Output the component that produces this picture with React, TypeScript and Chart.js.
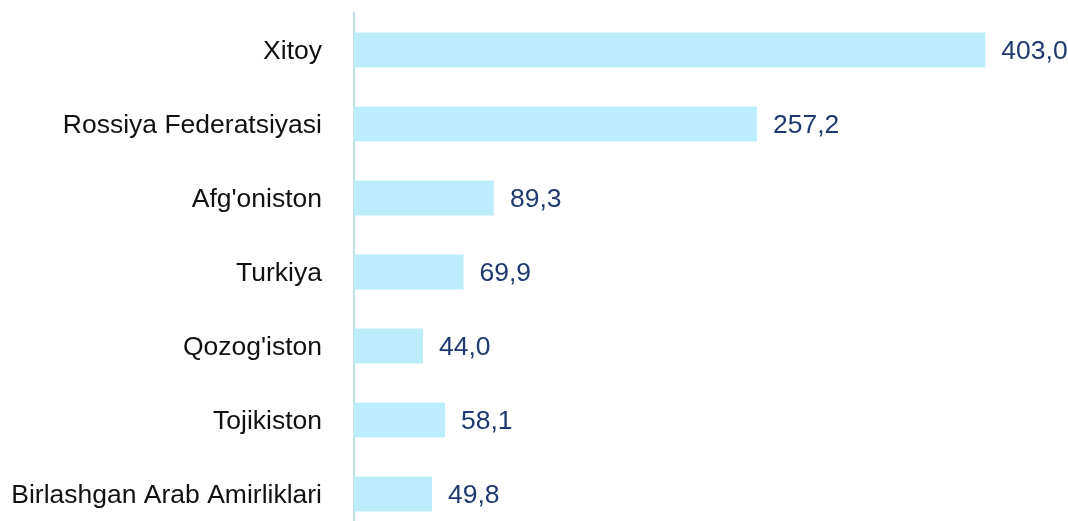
import React, { useEffect, useRef } from "react";
import { Chart, registerables } from "chart.js";

Chart.register(...registerables);

const categories = [
  "Xitoy",
  "Rossiya Federatsiyasi",
  "Afg'oniston",
  "Turkiya",
  "Qozog'iston",
  "Tojikiston",
  "Birlashgan Arab Amirliklari",
];
const values = [403.0, 257.2, 89.3, 69.9, 44.0, 58.1, 49.8];

const FONT = "25px 'Liberation Sans', Arial, sans-serif";
const STRETCH = 1.06;

const textPlugin = {
  id: "textPlugin",
  afterDatasetsDraw(chart: any) {
    const ctx = chart.ctx;
    const meta = chart.getDatasetMeta(0);
    const yScale = chart.scales.y;
    ctx.save();
    ctx.font = FONT;
    ctx.textBaseline = "middle";
    categories.forEach((label, i) => {
      const y = yScale.getPixelForTick(i);
      ctx.save();
      ctx.translate(yScale.right - 32, y + 2);
      ctx.scale(STRETCH, 1);
      ctx.fillStyle = "#111111";
      ctx.textAlign = "right";
      ctx.fillText(label, 0, 0);
      ctx.restore();
    });
    meta.data.forEach((bar: any, i: number) => {
      const txt = values[i].toFixed(1).replace(".", ",");
      ctx.save();
      ctx.translate(bar.x + 16, bar.y + 2);
      ctx.scale(STRETCH, 1);
      ctx.fillStyle = "#1F3A70";
      ctx.textAlign = "left";
      ctx.fillText(txt, 0, 0);
      ctx.restore();
    });
    ctx.restore();
  },
};

export default function App() {
  const ref = useRef<HTMLCanvasElement>(null);
  useEffect(() => {
    if (!ref.current) return;
    const chart = new Chart(ref.current, {
      type: "bar",
      data: {
        labels: categories,
        datasets: [
          {
            data: values,
            backgroundColor: "#BDEDFD",
            borderWidth: 0,
            categoryPercentage: 1,
            barPercentage: 0.473,
          },
        ],
      },
      options: {
        indexAxis: "y",
        responsive: false,
        animation: false,
        layout: { padding: { top: 13, right: 9, bottom: 0, left: 0 } },
        plugins: { legend: { display: false }, tooltip: { enabled: false } },
        scales: {
          x: { display: false, min: 0, max: 450 },
          y: {
            grid: { display: false, drawTicks: false },
            border: { display: true, color: "#BFE1EE", width: 2 },
            ticks: { display: false },
            afterFit(scale: any) {
              scale.width = 354;
              scale.paddingTop = 0;
              scale.paddingBottom = 0;
            },
          },
        },
      },
      plugins: [textPlugin],
    });
    return () => chart.destroy();
  }, []);
  return (
    <div style={{ position: "fixed", left: 0, top: 0, width: 1068, height: 531, background: "#fff" }}>
      <canvas ref={ref} width={1068} height={531} style={{ width: 1068, height: 531 }} />
    </div>
  );
}
